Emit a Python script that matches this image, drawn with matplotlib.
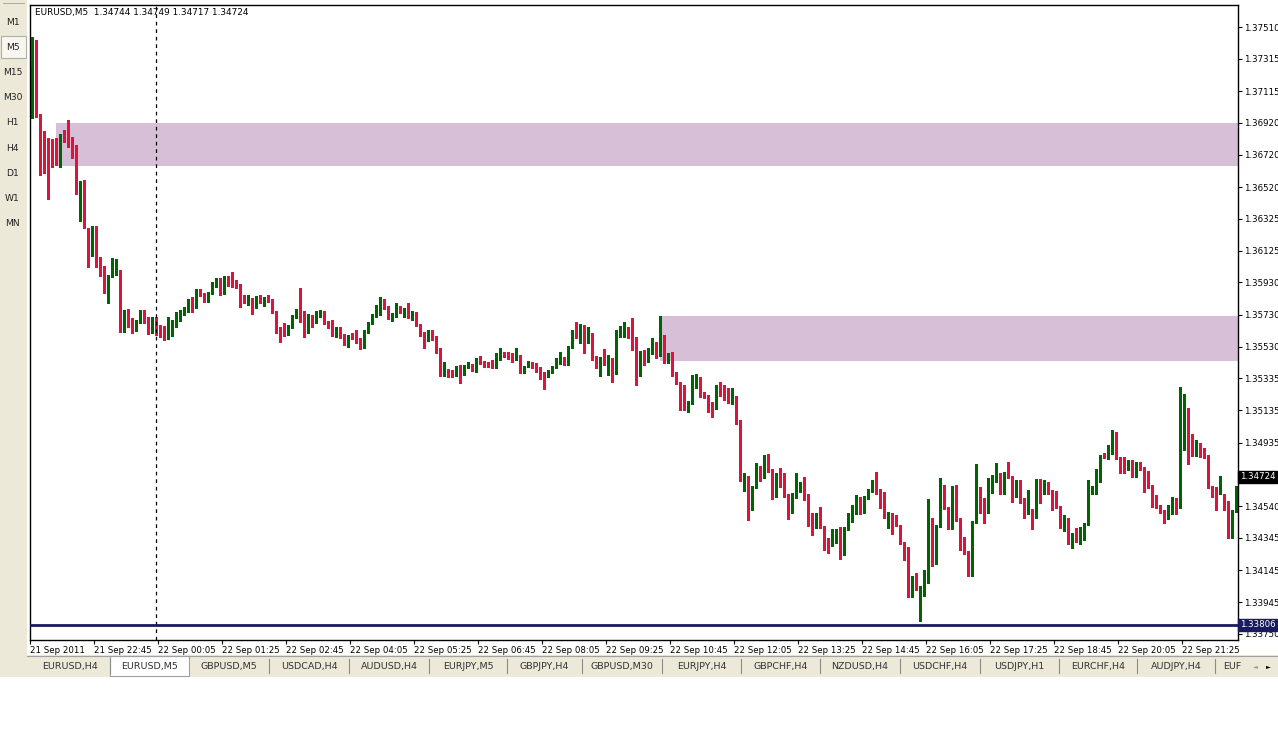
import matplotlib
matplotlib.use("Agg")
import matplotlib.pyplot as plt
import matplotlib.transforms as mtransforms
from matplotlib.patches import Rectangle
import numpy as np

W, H = 1278, 753

symbol = "EURUSD,M5"
header_ohlc = ["1.34744", "1.34749", "1.34717", "1.34724"]
last_price = 1.34724
hline_price = 1.33806

opens = [
1.37265,1.37420,1.36973,1.36868,1.36775,1.36731,1.36725,1.36700,1.36849,1.36818,
1.36793,1.36731,1.36539,1.36558,1.36260,1.36099,1.36273,1.36080,1.36025,1.35932,
1.35969,1.35981,1.36000,1.35634,1.35758,1.35665,1.35634,1.35684,1.35752,1.35690,
1.35622,1.35708,1.35640,1.35628,1.35609,1.35628,1.35659,1.35733,1.35733,1.35752,
1.35801,1.35777,1.35870,1.35845,1.35814,1.35863,1.35907,1.35944,1.35863,1.35950,
1.35932,1.35925,1.35913,1.35839,1.35820,1.35826,1.35777,1.35845,1.35801,1.35839,
1.35820,1.35746,1.35646,1.35628,1.35615,1.35653,1.35715,1.35770,1.35746,1.35622,
1.35721,1.35684,1.35721,1.35746,1.35684,1.35653,1.35597,1.35628,1.35603,1.35547,
1.35603,1.35597,1.35578,1.35529,1.35622,1.35677,1.35721,1.35733,1.35820,1.35777,
1.35715,1.35721,1.35777,1.35746,1.35758,1.35721,1.35739,1.35665,1.35603,1.35572,
1.35622,1.35591,1.35516,1.35355,1.35380,1.35367,1.35355,1.35405,1.35374,1.35405,
1.35417,1.35386,1.35454,1.35429,1.35429,1.35423,1.35405,1.35454,1.35491,1.35491,
1.35473,1.35454,1.35473,1.35374,1.35405,1.35417,1.35423,1.35386,1.35349,1.35349,
1.35374,1.35405,1.35429,1.35460,1.35423,1.35529,1.35622,1.35591,1.35646,1.35597,
1.35609,1.35467,1.35405,1.35460,1.35429,1.35454,1.35367,1.35597,1.35634,1.35646,
1.35597,1.35584,1.35355,1.35491,1.35467,1.35491,1.35541,1.35479,1.35597,1.35448,
1.35491,1.35367,1.35305,1.35287,1.35150,1.35181,1.35281,1.35305,1.35231,1.35225,
1.35181,1.35150,1.35262,1.35237,1.35231,1.35181,1.35219,1.35057,1.34698,1.34723,
1.34574,1.34661,1.34772,1.34723,1.34847,1.34766,1.34605,1.34741,1.34741,1.34611,
1.34561,1.34599,1.34667,1.34679,1.34586,1.34493,1.34413,1.34499,1.34413,1.34320,
1.34301,1.34320,1.34351,1.34245,1.34400,1.34487,1.34499,1.34592,1.34506,1.34592,
1.34636,1.34698,1.34630,1.34623,1.34462,1.34493,1.34468,1.34419,1.34313,1.34282,
1.34022,1.34115,1.34028,1.34041,1.34072,1.34400,1.34189,1.34419,1.34654,1.34530,
1.34406,1.34630,1.34462,1.34276,1.34258,1.34115,1.34444,1.34605,1.34543,1.34506,
1.34630,1.34698,1.34741,1.34623,1.34747,1.34723,1.34605,1.34648,1.34586,1.34499,
1.34518,1.34475,1.34704,1.34623,1.34679,1.34623,1.34617,1.34537,1.34413,1.34437,
1.34313,1.34369,1.34351,1.34375,1.34431,1.34623,1.34623,1.34766,1.34859,1.34840,
1.34871,1.34995,1.34840,1.34809,1.34772,1.34809,1.34729,1.34797,1.34778,1.34685,
1.34667,1.34605,1.34543,1.34512,1.34468,1.34537,1.34586,1.34537,1.34940,1.35144,
1.34964,1.34878,1.34915,1.34865,1.34853,1.34661,1.34630,1.34623,1.34611,1.34568,
1.34351,1.34512]

highs = [
1.37451,1.37432,1.36973,1.36868,1.36824,1.36818,1.36824,1.36849,1.36874,1.36936,
1.36831,1.36781,1.36558,1.36564,1.36266,1.36279,1.36279,1.36087,1.36031,1.35975,
1.36080,1.36074,1.36006,1.35758,1.35764,1.35708,1.35696,1.35758,1.35758,1.35715,
1.35715,1.35715,1.35665,1.35659,1.35715,1.35696,1.35746,1.35758,1.35777,1.35826,
1.35839,1.35888,1.35888,1.35863,1.35870,1.35932,1.35956,1.35956,1.35969,1.35969,
1.35994,1.35944,1.35919,1.35851,1.35851,1.35832,1.35845,1.35851,1.35839,1.35851,
1.35826,1.35752,1.35653,1.35677,1.35665,1.35727,1.35764,1.35894,1.35752,1.35733,
1.35727,1.35752,1.35758,1.35752,1.35690,1.35696,1.35653,1.35653,1.35609,1.35603,
1.35615,1.35634,1.35584,1.35634,1.35684,1.35733,1.35789,1.35839,1.35826,1.35783,
1.35739,1.35801,1.35783,1.35770,1.35801,1.35752,1.35746,1.35671,1.35622,1.35634,
1.35634,1.35597,1.35522,1.35436,1.35392,1.35386,1.35411,1.35417,1.35417,1.35436,
1.35423,1.35460,1.35473,1.35442,1.35436,1.35448,1.35491,1.35522,1.35498,1.35498,
1.35491,1.35522,1.35479,1.35411,1.35442,1.35436,1.35429,1.35405,1.35374,1.35386,
1.35411,1.35460,1.35498,1.35467,1.35535,1.35634,1.35684,1.35671,1.35665,1.35653,
1.35615,1.35473,1.35467,1.35516,1.35479,1.35460,1.35634,1.35659,1.35684,1.35653,
1.35708,1.35591,1.35504,1.35510,1.35522,1.35584,1.35560,1.35721,1.35603,1.35491,
1.35498,1.35374,1.35312,1.35293,1.35194,1.35355,1.35361,1.35343,1.35250,1.35231,
1.35188,1.35293,1.35312,1.35293,1.35274,1.35274,1.35225,1.35076,1.34747,1.34729,
1.34667,1.34809,1.34791,1.34859,1.34865,1.34772,1.34747,1.34778,1.34747,1.34617,
1.34623,1.34747,1.34692,1.34723,1.34617,1.34499,1.34499,1.34537,1.34419,1.34344,
1.34400,1.34400,1.34413,1.34413,1.34499,1.34549,1.34611,1.34599,1.34605,1.34648,
1.34704,1.34754,1.34648,1.34630,1.34506,1.34499,1.34487,1.34425,1.34320,1.34289,
1.34109,1.34127,1.34047,1.34146,1.34586,1.34468,1.34425,1.34716,1.34673,1.34537,
1.34667,1.34673,1.34468,1.34351,1.34264,1.34450,1.34803,1.34661,1.34592,1.34716,
1.34735,1.34809,1.34747,1.34754,1.34816,1.34729,1.34704,1.34704,1.34592,1.34642,
1.34524,1.34710,1.34710,1.34704,1.34692,1.34642,1.34636,1.34543,1.34487,1.34468,
1.34375,1.34406,1.34413,1.34437,1.34704,1.34667,1.34772,1.34859,1.34871,1.34921,
1.35014,1.35002,1.34847,1.34847,1.34828,1.34828,1.34816,1.34816,1.34785,1.34760,
1.34673,1.34611,1.34549,1.34518,1.34549,1.34599,1.34592,1.35281,1.35237,1.35150,
1.34989,1.34952,1.34933,1.34902,1.34859,1.34667,1.34661,1.34729,1.34617,1.34574,
1.34518,1.34667]

lows = [
1.36948,1.36955,1.36595,1.36607,1.36446,1.36645,1.36657,1.36645,1.36800,1.36769,
1.36700,1.36477,1.36310,1.36266,1.36025,1.36093,1.36025,1.35969,1.35863,1.35801,
1.35963,1.35975,1.35622,1.35622,1.35653,1.35615,1.35628,1.35677,1.35677,1.35609,
1.35615,1.35603,1.35591,1.35572,1.35578,1.35597,1.35653,1.35690,1.35727,1.35746,
1.35746,1.35770,1.35845,1.35808,1.35808,1.35857,1.35901,1.35851,1.35857,1.35907,
1.35901,1.35894,1.35777,1.35801,1.35789,1.35733,1.35770,1.35801,1.35783,1.35808,
1.35739,1.35615,1.35560,1.35597,1.35603,1.35646,1.35708,1.35684,1.35591,1.35615,
1.35653,1.35677,1.35715,1.35671,1.35646,1.35597,1.35591,1.35584,1.35541,1.35529,
1.35578,1.35553,1.35516,1.35522,1.35615,1.35671,1.35715,1.35727,1.35764,1.35702,
1.35690,1.35715,1.35739,1.35715,1.35708,1.35696,1.35659,1.35597,1.35522,1.35566,
1.35572,1.35491,1.35349,1.35349,1.35343,1.35343,1.35349,1.35305,1.35355,1.35398,
1.35380,1.35374,1.35423,1.35405,1.35405,1.35398,1.35398,1.35448,1.35467,1.35454,
1.35436,1.35448,1.35367,1.35367,1.35405,1.35398,1.35374,1.35330,1.35268,1.35343,
1.35367,1.35398,1.35423,1.35417,1.35417,1.35522,1.35584,1.35553,1.35491,1.35553,
1.35448,1.35398,1.35349,1.35417,1.35355,1.35312,1.35361,1.35591,1.35591,1.35584,
1.35510,1.35293,1.35349,1.35417,1.35436,1.35485,1.35460,1.35473,1.35429,1.35429,
1.35349,1.35299,1.35138,1.35138,1.35126,1.35175,1.35274,1.35219,1.35212,1.35126,
1.35095,1.35144,1.35225,1.35200,1.35181,1.35175,1.35051,1.34698,1.34636,1.34456,
1.34518,1.34654,1.34698,1.34716,1.34754,1.34586,1.34599,1.34661,1.34599,1.34462,
1.34499,1.34592,1.34630,1.34580,1.34419,1.34363,1.34406,1.34406,1.34270,1.34251,
1.34295,1.34313,1.34214,1.34239,1.34394,1.34444,1.34493,1.34493,1.34499,1.34586,
1.34630,1.34617,1.34530,1.34468,1.34406,1.34369,1.34419,1.34307,1.34208,1.33979,
1.33979,1.34022,1.33830,1.33985,1.34065,1.34171,1.34183,1.34413,1.34524,1.34400,
1.34400,1.34450,1.34270,1.34245,1.34109,1.34109,1.34437,1.34499,1.34437,1.34499,
1.34623,1.34692,1.34617,1.34617,1.34716,1.34568,1.34599,1.34561,1.34468,1.34493,
1.34400,1.34468,1.34561,1.34617,1.34617,1.34518,1.34530,1.34406,1.34388,1.34307,
1.34282,1.34320,1.34307,1.34332,1.34425,1.34617,1.34617,1.34692,1.34840,1.34834,
1.34865,1.34834,1.34747,1.34747,1.34766,1.34723,1.34723,1.34766,1.34630,1.34654,
1.34537,1.34530,1.34499,1.34437,1.34462,1.34493,1.34493,1.34530,1.34890,1.34803,
1.34853,1.34853,1.34847,1.34840,1.34654,1.34599,1.34518,1.34617,1.34518,1.34344,
1.34344,1.34506]

closes = [
1.37451,1.36967,1.36862,1.36769,1.36725,1.36713,1.36700,1.36849,1.36812,1.36793,
1.36738,1.36539,1.36558,1.36273,1.36099,1.36273,1.36080,1.36025,1.35932,1.35975,
1.35987,1.36000,1.35634,1.35752,1.35665,1.35634,1.35690,1.35752,1.35684,1.35615,
1.35708,1.35615,1.35615,1.35603,1.35653,1.35659,1.35739,1.35752,1.35758,1.35808,
1.35777,1.35863,1.35857,1.35814,1.35863,1.35919,1.35944,1.35857,1.35956,1.35913,
1.35913,1.35901,1.35839,1.35820,1.35826,1.35777,1.35839,1.35808,1.35832,1.35814,
1.35746,1.35634,1.35622,1.35615,1.35653,1.35721,1.35758,1.35746,1.35622,1.35727,
1.35684,1.35739,1.35739,1.35677,1.35653,1.35603,1.35628,1.35597,1.35547,1.35597,
1.35584,1.35560,1.35529,1.35628,1.35677,1.35727,1.35739,1.35820,1.35770,1.35715,
1.35733,1.35764,1.35746,1.35758,1.35715,1.35733,1.35665,1.35603,1.35572,1.35628,
1.35591,1.35498,1.35355,1.35374,1.35355,1.35349,1.35405,1.35374,1.35411,1.35417,
1.35386,1.35454,1.35429,1.35417,1.35411,1.35405,1.35460,1.35491,1.35473,1.35460,
1.35454,1.35467,1.35386,1.35405,1.35423,1.35405,1.35380,1.35349,1.35336,1.35380,
1.35405,1.35454,1.35460,1.35423,1.35529,1.35628,1.35591,1.35646,1.35597,1.35609,
1.35454,1.35405,1.35460,1.35429,1.35454,1.35367,1.35603,1.35646,1.35646,1.35591,
1.35584,1.35355,1.35498,1.35473,1.35498,1.35541,1.35479,1.35597,1.35448,1.35485,
1.35355,1.35305,1.35219,1.35181,1.35188,1.35287,1.35305,1.35225,1.35219,1.35181,
1.35150,1.35262,1.35231,1.35225,1.35188,1.35219,1.35057,1.34704,1.34716,1.34580,
1.34661,1.34772,1.34723,1.34853,1.34766,1.34599,1.34741,1.34735,1.34605,1.34561,
1.34599,1.34673,1.34685,1.34586,1.34493,1.34413,1.34493,1.34413,1.34313,1.34307,
1.34326,1.34351,1.34245,1.34406,1.34493,1.34506,1.34592,1.34499,1.34599,1.34642,
1.34698,1.34623,1.34623,1.34475,1.34499,1.34462,1.34431,1.34313,1.34282,1.34022,
1.34103,1.34028,1.34041,1.34072,1.34400,1.34177,1.34419,1.34654,1.34530,1.34406,
1.34630,1.34456,1.34276,1.34251,1.34115,1.34444,1.34605,1.34506,1.34506,1.34630,
1.34698,1.34741,1.34623,1.34747,1.34723,1.34605,1.34648,1.34580,1.34487,1.34512,
1.34475,1.34704,1.34623,1.34679,1.34623,1.34605,1.34537,1.34413,1.34437,1.34313,
1.34369,1.34351,1.34375,1.34431,1.34630,1.34636,1.34766,1.34853,1.34847,1.34871,
1.34995,1.34840,1.34809,1.34772,1.34809,1.34729,1.34791,1.34772,1.34692,1.34661,
1.34599,1.34537,1.34506,1.34462,1.34543,1.34586,1.34537,1.34940,1.35157,1.34964,
1.34909,1.34915,1.34853,1.34847,1.34661,1.34623,1.34623,1.34667,1.34555,1.34351,
1.34512,1.34654]

# supply/demand zones: (first bar, low price, high price)
zone_starts = [6, 157]
zone_lows = [1.36651, 1.35442]
zone_highs = [1.36917, 1.35721]

separator_bar = 31

price_ticks = ["1.37510", "1.37315", "1.37115", "1.36920", "1.36720", "1.36520",
               "1.36325", "1.36125", "1.35930", "1.35730", "1.35530", "1.35335",
               "1.35135", "1.34935", "1.34540", "1.34345", "1.34145", "1.33945",
               "1.33750"]

time_labels = ["21 Sep 2011", "21 Sep 22:45", "22 Sep 00:05", "22 Sep 01:25",
               "22 Sep 02:45", "22 Sep 04:05", "22 Sep 05:25", "22 Sep 06:45",
               "22 Sep 08:05", "22 Sep 09:25", "22 Sep 10:45", "22 Sep 12:05",
               "22 Sep 13:25", "22 Sep 14:45", "22 Sep 16:05", "22 Sep 17:25",
               "22 Sep 18:45", "22 Sep 20:05", "22 Sep 21:25"]
bars_per_label = 16

timeframes = ["M1", "M5", "M15", "M30", "H1", "H4", "D1", "W1", "MN"]
active_tf = "M5"

tabs = ["EURUSD,H4", "EURUSD,M5", "GBPUSD,M5", "USDCAD,H4", "AUDUSD,H4",
        "EURJPY,M5", "GBPJPY,H4", "GBPUSD,M30", "EURJPY,H4", "GBPCHF,H4",
        "NZDUSD,H4", "USDCHF,H4", "USDJPY,H1", "EURCHF,H4", "AUDJPY,H4", "EUF"]
active_tab = "EURUSD,M5"

# ---------------------------------------------------------------
FONT = "DejaVu Sans"
FS = 6.2
BEIGE = "#ECE9D8"
UP = "#006400"
DOWN = "#DC143C"
ZONE = "#D8BFD8"

o = np.array(opens); h = np.array(highs); l = np.array(lows); c = np.array(closes)
n = len(o)
x = np.arange(n)

fig = plt.figure(figsize=(W / 100, H / 100), dpi=100)
fig.patch.set_facecolor("white")

# background (pixel coordinates)
bg = fig.add_axes([0, 0, 1, 1])
bg.set_xlim(0, W); bg.set_ylim(H, 0); bg.axis("off")
bg.add_patch(Rectangle((0, 0), 27, 677, fc=BEIGE, ec="none"))
bg.add_patch(Rectangle((27, 655), W - 27, 22, fc=BEIGE, ec="none"))
bg.plot([27, W], [655.5, 655.5], color="#A0A0A0", lw=0.8)
# gripper
for gx in range(3, 25, 2):
    bg.plot([gx, gx + 0.8], [3, 3], color="#9A9A8A", lw=0.6)

# timeframe buttons
for i, tf in enumerate(timeframes):
    yy = 22 + 25.1 * i
    if tf == active_tf:
        bg.add_patch(Rectangle((1, yy - 11), 25, 22, fc="#F7F6F0", ec="#B0AFA5", lw=0.8))
    bg.text(12.5, yy + 0.5, tf, ha="center", va="center", fontsize=FS + 0.4,
            family=FONT, color="#222222")

# tabs
tab_w = [80, 79, 80, 80, 80, 78, 75, 80, 79, 79, 80, 80, 79, 78, 78]
tx = 30
for name, tw in zip(tabs[:-1], tab_w):
    if name == active_tab:
        bg.add_patch(Rectangle((tx, 656), tw, 20, fc="white", ec="#A0A0A0", lw=0.8))
    else:
        bg.plot([tx + tw, tx + tw], [659, 673], color="#8C8C8C", lw=0.8)
    bg.text(tx + tw / 2, 666.5, name, ha="center", va="center", fontsize=FS + 0.6,
            family=FONT, color="#333333")
    tx += tw
bg.text(tx + 8, 666.5, tabs[-1], ha="left", va="center", fontsize=FS + 0.6,
        family=FONT, color="#333333")
bg.add_patch(Rectangle((1245, 657), 33, 19, fc=BEIGE, ec="none", zorder=3))
bg.text(1255, 666.5, "\u25c4", ha="center", va="center", fontsize=4.5, color="#9A9A9A",
        family=FONT, zorder=4)
bg.text(1268, 666.5, "\u25ba", ha="center", va="center", fontsize=4.5, color="black",
        family=FONT, zorder=4)

# main chart axes
ax = fig.add_axes([30 / W, 1 - 640 / H, 1208 / W, 635 / H])
ax.set_facecolor("white")
ax.set_xlim(-0.5, n - 0.5)
ax.set_ylim(1.33712, 1.37649)
for s in ax.spines.values():
    s.set_color("black"); s.set_linewidth(1.0)

# zones
for zs, zl, zh in zip(zone_starts, zone_lows, zone_highs):
    ax.add_patch(Rectangle((zs, zl), n - zs + 1, zh - zl, fc=ZONE, ec="none", zorder=0.5))

# candles
up = c >= o
cols = np.where(up, UP, DOWN)
ax.vlines(x, l, h, colors=cols, lw=1.0, zorder=2, antialiased=False)
bot = np.minimum(o, c)
hgt = np.maximum(np.abs(c - o), 0.00005)
ax.bar(x, hgt, bottom=bot, width=0.64, color=cols, linewidth=0, zorder=3,
       antialiased=False)

# separator and horizontal line
ax.axvline(separator_bar, color="black", lw=0.9, ls=(0, (3, 3)), zorder=4)
ax.axhline(hline_price, color="#1A1A5E", lw=2.0, zorder=4)

# price axis
ax.yaxis.tick_right()
ax.set_yticks([float(t) for t in price_ticks])
ax.set_yticklabels(price_ticks, fontsize=FS, family=FONT)
ax.tick_params(axis="y", length=3, width=0.8, pad=1.5, colors="black")

# time axis
tpos = [i * bars_per_label - 0.4 for i in range(len(time_labels))]
ax.set_xticks(tpos)
ax.set_xticklabels(time_labels, fontsize=FS, family=FONT)
for lbl in ax.get_xticklabels():
    lbl.set_ha("left")
ax.tick_params(axis="x", length=3, width=0.8, pad=1.5, colors="black")

trans = mtransforms.blended_transform_factory(ax.transAxes, ax.transData)
ax.text(1.0015, last_price, f"{last_price:.5f}", transform=trans, ha="left", va="center",
        fontsize=FS, family=FONT, color="white", zorder=6, clip_on=False,
        bbox=dict(boxstyle="square,pad=0.18", fc="black", ec="black"))
ax.text(1.0015, hline_price, f"{hline_price:.5f}", transform=trans, ha="left", va="center",
        fontsize=FS, family=FONT, color="white", zorder=6, clip_on=False,
        bbox=dict(boxstyle="square,pad=0.18", fc="#1A1A5E", ec="#1A1A5E"))

# header
fig.text(35 / W, 1 - 13 / H, f"{symbol}  " + " ".join(header_ohlc), ha="left",
         va="center", fontsize=FS + 0.2, family=FONT, color="black")

fig.savefig("out.png", dpi=100, facecolor="white")
